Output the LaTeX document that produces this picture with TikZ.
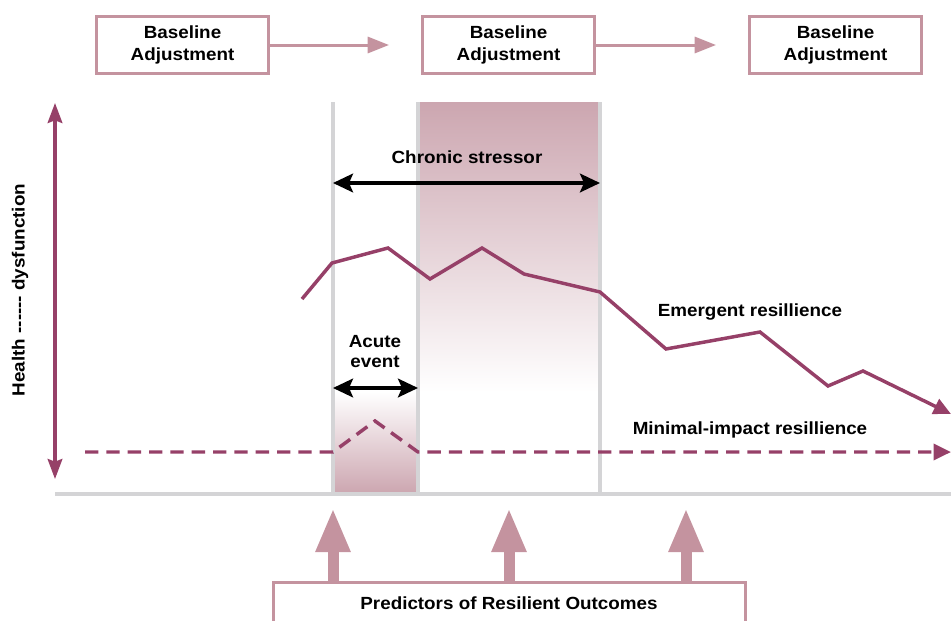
\documentclass[tikz,border=0pt]{standalone}
\usepackage{fontspec}
\setmainfont{Liberation Sans}[FakeStretch=1.07]
\usetikzlibrary{arrows.meta}
\definecolor{plum}{HTML}{964068}
\definecolor{rose}{HTML}{C4939F}
\definecolor{bandtop}{HTML}{CCA6B0}
\definecolor{guide}{HTML}{D4D4D6}
\def\hy{-\kern0pt}
\begin{document}
\begin{tikzpicture}[x=0.75pt,y=-0.75pt,
  lbl/.style={font=\fontsize{13.2}{15}\selectfont\bfseries,align=center,inner sep=0pt},
  topbox/.style={lbl,draw=rose,line width=2.25pt,minimum width=129pt,minimum height=42.75pt},
  flow/.style={draw=rose,line width=2.25pt,-{Triangle[length=16pt,width=12pt]}},
  span/.style={draw=black,line width=2.6pt,{Stealth[length=15pt,width=14pt,inset=3pt]}-{Stealth[length=15pt,width=14pt,inset=3pt]}},
  guideline/.style={draw=guide,line width=2.4pt},
  curve/.style={draw=plum,line width=2.6pt,line join=miter,-{Triangle[length=13pt,width=12pt]}},
  fat/.style={draw=rose,line width=8.25pt,-{Triangle[length=33pt,width=24pt]}}]
\useasboundingbox (0,0) rectangle (951,621);
% shaded bands
\shade[top color=bandtop,bottom color=white] (418,102) rectangle (600,392);
\shade[top color=white,bottom color=bandtop] (333,392) rectangle (418,493);
% guide lines
\coordinate (g1t) at (333,102); \coordinate (g1b) at (333,493);
\coordinate (g2t) at (418,102); \coordinate (g2b) at (418,493);
\coordinate (g3t) at (600,102); \coordinate (g3b) at (600,493);
\draw[guideline] (g1t) -- (g1b);
\draw[guideline] (g2t) -- (g2b);
\draw[guideline] (g3t) -- (g3b);
\coordinate (axl) at (55,494); \coordinate (axr) at (951,494);
\draw[guideline] (axl) -- (axr);
% top boxes
\node[topbox] (b1) at (182.5,45) {Baseline\\[1pt]Adjustment};
\node[topbox] (b2) at (508.5,45) {Baseline\\[1pt]Adjustment};
\node[topbox] (b3) at (835.5,45) {Baseline\\[1pt]Adjustment};
\coordinate (t1) at (389,45); \coordinate (t2) at (716,45);
\draw[flow] (b1.east) -- (t1);
\draw[flow] (b2.east) -- (t2);
% vertical axis
\coordinate (vt) at (55,103); \coordinate (vb) at (55,479);
\draw[draw=plum,line width=2.4pt,{Triangle[length=15pt,width=11pt,inset=2pt]}-{Triangle[length=15pt,width=11pt,inset=2pt]}] (vt) -- (vb);
\node[lbl,rotate=90] (ylab) at (20,290) {Health \hy\hy\hy\hy\hy\hy\ dysfunction};
% chronic stressor
\node[lbl] (chr) at (467,157) {Chronic stressor};
\coordinate (c1) at (333,183); \coordinate (c2) at (600,183);
\draw[span] (c1) -- (c2);
% acute event
\node[lbl] (acu) at (375,352) {Acute\\[0pt]event};
\coordinate (a1) at (333,388); \coordinate (a2) at (418,388);
\draw[span] (a1) -- (a2);
% emergent resilience curve
\coordinate (e0) at (302,299);
\coordinate (e12) at (951,414);
\draw[curve] (e0) -- (332,263) -- (388,248) -- (430,279) -- (482,248) -- (524,274) -- (600,292) -- (666,349) -- (760,332) -- (828,386) -- (863,371) -- (e12);
\node[lbl] (em) at (750,312) {Emergent resillience};
% minimal impact
\coordinate (m0) at (85,452); \coordinate (m1) at (951,452);
\draw[curve,dash pattern=on 10pt off 6pt] (m0) -- (333,452) -- (375,421) -- (418,452) -- (m1);
\node[lbl] (mi) at (750,430) {Minimal-impact resillience};
% predictors
\node[lbl,minimum width=354pt,minimum height=30pt] (pred) at (509,603) {Predictors of Resilient Outcomes};
\draw[draw=rose,line width=2.25pt] (273,625) -- (273,582.5) -- (745,582.5) -- (745,625);
\coordinate (p1) at (333,582); \coordinate (p1t) at (333,508);
\coordinate (p2) at (509,582); \coordinate (p2t) at (509,508);
\coordinate (p3) at (686,582); \coordinate (p3t) at (686,508);
\draw[fat] (p1) -- (p1t);
\draw[fat] (p2) -- (p2t);
\draw[fat] (p3) -- (p3t);
\end{tikzpicture}
\end{document}
